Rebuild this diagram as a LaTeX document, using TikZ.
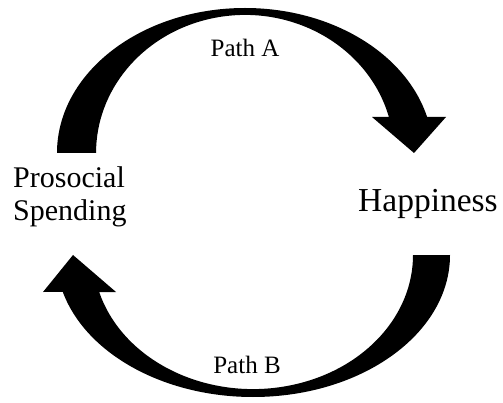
\documentclass[tikz,border=0pt]{standalone}
\usepackage{fontspec}
\setmainfont{Liberation Serif}
\usetikzlibrary{positioning}

\tikzset{
  factor/.style={inner sep=0pt},
  pathname/.style={inner sep=0pt, anchor=base, font=\fontsize{25}{30}\selectfont},
  bandarrow/.style={fill=black, draw=none},
}

\begin{document}
\begin{tikzpicture}[x=1pt, y=-1pt]
        \useasboundingbox (0,0) rectangle (503,403);

        \node (spend) [factor, anchor=west, align=left, font=\fontsize{30}{33}\selectfont] at (13,197) {Prosocial\\Spending};
        \node (happy) [factor, anchor=base west, font=\fontsize{33.5}{40}\selectfont] at (358,212) {Happiness};

        \node (pathA) [pathname] at (245,57) {Path A};
        \node (pathB) [pathname] at (247,373) {Path B};

        % ends of the two bands
        \coordinate (A-tail) at (57,153);
        \coordinate (A-tip) at (414,153);
        \coordinate (B-tail) at (450,255);
        \coordinate (B-tip) at (73,255);

        \fill[bandarrow] (A-tail) arc[start angle=180, end angle=345.6, x radius=188, y radius=145]
              -- (446,117) -- (A-tip) -- (372,117) -- (388.9,117)
              arc[start angle=344.9, end angle=180, x radius=149, y radius=138] -- cycle;

        \fill[bandarrow] (B-tail) arc[start angle=0, end angle=164.9, x radius=197, y radius=142]
              -- (43,292) -- (B-tip) -- (116,292) -- (99.2,292)
              arc[start angle=164, end angle=0, x radius=160, y radius=134] -- cycle;

\end{tikzpicture}
\end{document}
